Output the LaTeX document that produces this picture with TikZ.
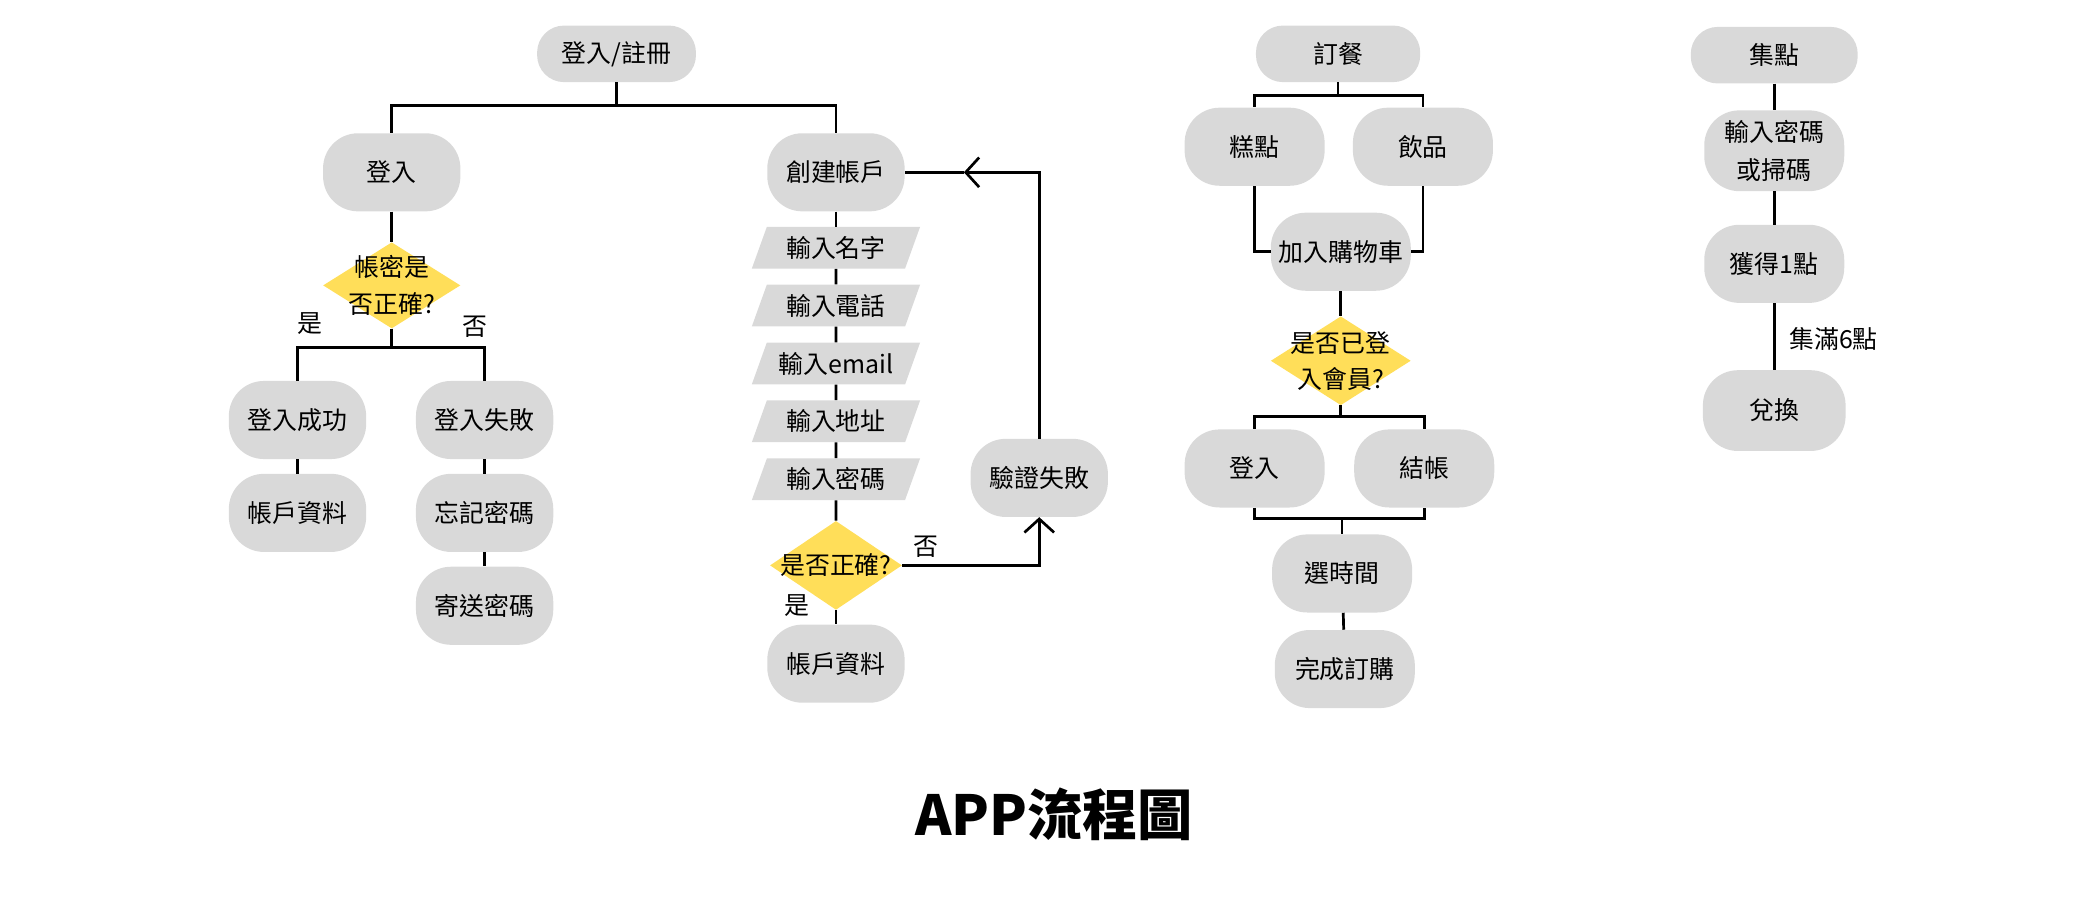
\documentclass[tikz,border=0pt]{standalone}
\usepackage{fontspec}
\setmainfont{Noto Sans CJK TC}
\usepackage{tikz}
\usetikzlibrary{shapes.geometric, arrows.meta, positioning}
\definecolor{boxgray}{HTML}{D9D9D9}
\definecolor{askyellow}{HTML}{FFDE59}
\tikzstyle{tag} = [font=\fontsize{18.5}{28}\selectfont]
\tikzstyle{block} = [rectangle, rounded corners=26pt, minimum width=102pt, minimum height=58pt, text centered, align=center, fill=boxgray, tag]
\tikzstyle{head} = [block, rounded corners=20pt, minimum width=118pt, minimum height=42pt]
\tikzstyle{io} = [trapezium, trapezium left angle=57, trapezium right angle=123, trapezium stretches body, minimum width=125pt, minimum height=31pt, inner sep=0pt, fill=boxgray, tag]
\tikzstyle{decision} = [diamond, minimum width=102pt, minimum height=64pt, inner sep=0pt, fill=askyellow]
\tikzstyle{link} = [line width=2pt]
\tikzstyle{arrow} = [link, -{Straight Barb[length=10pt,width=22pt]}]

\begin{document}
\begin{tikzpicture}[x=1pt, y=-1pt, node distance=43pt]
\useasboundingbox (0,0) rectangle (1560,668.6);

% Nodes: login / register
\node (reg) [head] at (458,40) {登入/註冊};
\node (login) [block] at (291,128) {登入};
\node (create) [block] at (621,128) {創建帳戶};
\node (chk1) [decision, label={[tag, align=center, font=\fontsize{18.5}{27}\selectfont]center:帳密是\\否正確?}] at (291,212) {};
\node (ok) [block] at (221,312) {登入成功};
\node (bad) [block] at (360,312) {登入失敗};
\node (acct1) [block] at (221,381) {帳戶資料};
\node (forgot) [block] at (360,381) {忘記密碼};
\node (send) [block] at (360,450) {寄送密碼};
\node (yes1) [tag] at (230,240) {是};
\node (no1) [tag] at (353,243) {否};

\node (in1) [io] at (621,184) {輸入名字};
\node (in2) [io, below of=in1] {輸入電話};
\node (in3) [io, below of=in2] {輸入email};
\node (in4) [io, below of=in3] {輸入地址};
\node (in5) [io, below of=in4] {輸入密碼};
\node (chk2) [decision, minimum width=98pt, minimum height=66pt, label={[tag]center:是否正確?}] at (621,420) {};
\node (acct2) [block] at (621,493) {帳戶資料};
\node (fail) [block] at (772,355) {驗證失敗};
\node (yes2) [tag] at (592,450) {是};
\node (no2) [tag] at (688,406) {否};
\coordinate (back) at (716,128);

% Nodes: order
\node (order) [head, minimum width=122pt] at (994,40) {訂餐};
\node (cake) [block, minimum width=104pt] at (932,109) {糕點};
\node (drink) [block, minimum width=104pt] at (1057,109) {飲品};
\node (cart) [block, minimum width=104pt] at (996,187) {加入購物車};
\node (chk3) [decision, minimum width=104pt, minimum height=66pt, label={[tag, align=center, font=\fontsize{18.5}{27}\selectfont]center:是否已登\\入會員?}] at (996,268) {};
\node (login2) [block, minimum width=104pt] at (932,348) {登入};
\node (pay) [block, minimum width=104pt] at (1058,348) {結帳};
\node (time) [block, minimum width=104pt] at (997,426) {選時間};
\node (done) [block, minimum width=104pt] at (999,497) {完成訂購};
\coordinate (merge) at (997,385);

% Nodes: points
\node (points) [head, minimum width=124pt] at (1318,41) {集點};
\node (scan) [block, minimum width=104pt, minimum height=60pt] at (1318,112) {輸入密碼\\或掃碼};
\node (gain) [block, minimum width=104pt] at (1318,196) {獲得1點};
\node (swap) [block, minimum width=106pt, minimum height=60pt] at (1318,305) {兌換};
\node (full) [tag] at (1362,252) {集滿6點};

\node (title) [font=\fontsize{41}{48}\selectfont\bfseries] at (783,605) {APP流程圖};

% Lines
\draw [link] (reg.south) -- ++(0,17) -| (login.north);
\draw [link] (reg.south) -- ++(0,17) -| (create.north);
\draw [link] (login) -- (chk1);
\draw [link] (chk1.south) -- ++(0,14) -| (ok.north);
\draw [link] (chk1.south) -- ++(0,14) -| (bad.north);
\draw [link] (ok) -- (acct1);
\draw [link] (bad) -- (forgot);
\draw [link] (forgot) -- (send);

\draw [link] (create) -- (in1);
\draw [link] (in1) -- (in2);
\draw [link] (in2) -- (in3);
\draw [link] (in3) -- (in4);
\draw [link] (in4) -- (in5);
\draw [link] (in5) -- (chk2);
\draw [link] (chk2) -- (acct2);
\draw [arrow] (chk2.east) -| (fail.south);
\draw [arrow] (fail.north) |- (back);
\draw [link] (back) -- (create.east);

\draw [link] (order.south) -- ++(0,10) -| (cake.north);
\draw [link] (order.south) -- ++(0,10) -| (drink.north);
\draw [link] (cake.south) |- (cart.west);
\draw [link] (drink.south) |- (cart.east);
\draw [link] (cart) -- (chk3);
\draw [link] (chk3.south) -- ++(0,8) -| (login2.north);
\draw [link] (chk3.south) -- ++(0,8) -| (pay.north);
\draw [link] (login2.south) |- (merge) -| (pay.south);
\draw [link] (merge) -- (time);
\draw [link] (time) -- (done);

\draw [link] (points) -- (scan);
\draw [link] (scan) -- (gain);
\draw [link] (gain) -- (swap);

\end{tikzpicture}
\end{document}
